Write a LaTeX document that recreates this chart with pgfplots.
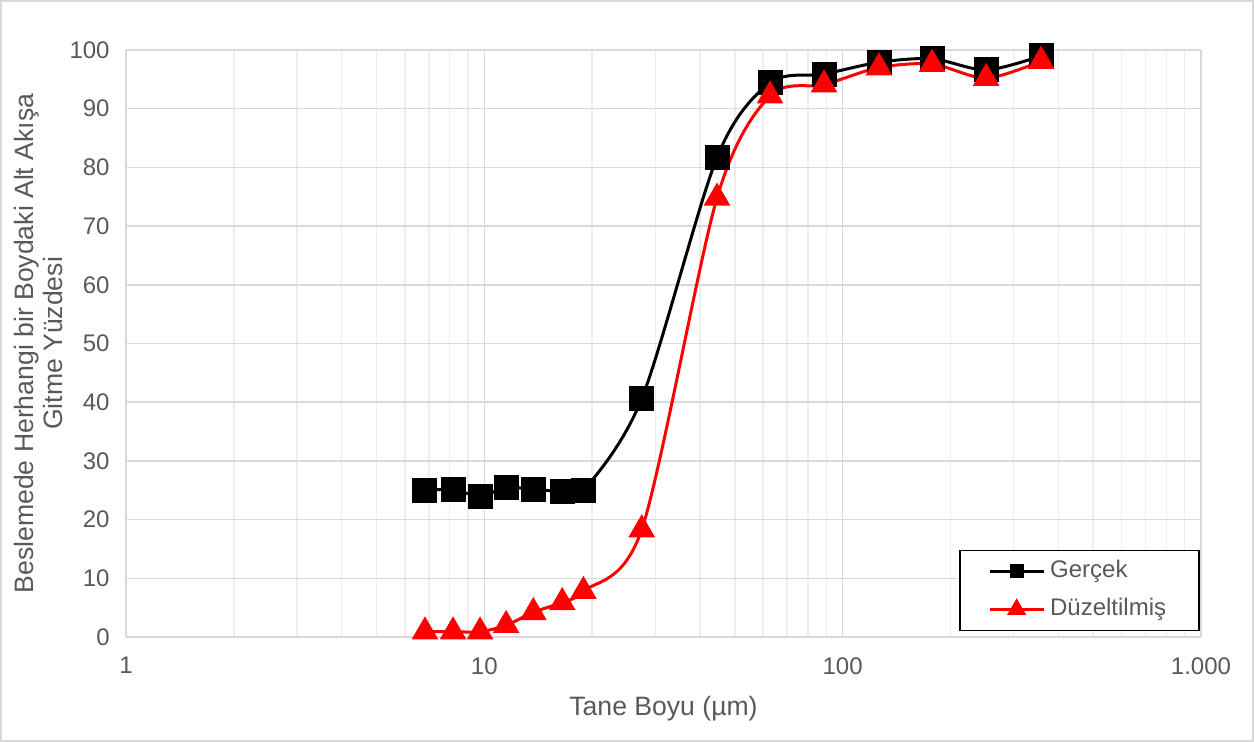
\documentclass[border=0pt]{standalone}
\usepackage{fontspec}
\setmainfont{Liberation Sans}
\usepackage{pgfplots}
\pgfplotsset{compat=1.18}
\definecolor{txtgray}{HTML}{595959}
\definecolor{gridmaj}{HTML}{D9D9D9}
\definecolor{gridmin}{HTML}{EDEDED}
\definecolor{exred}{HTML}{FF0000}
\definecolor{bordergray}{HTML}{D9D9D9}
\begin{document}
\begin{tikzpicture}[font=\fontsize{12}{14}\selectfont]
\useasboundingbox (-63pt,-52.5pt) rectangle (564pt,318.5pt);
\draw[bordergray, line width=0.75pt] (-62.6pt,-52.1pt) rectangle (563.6pt,318.1pt);
\begin{axis}[
  at={(0,0)}, anchor=south west,
  scale only axis, width=537.5pt, height=293.5pt,
  xmode=log, log basis x=10,
  xmin=1, xmax=1000, ymin=0, ymax=100,
  xtick={1,10,100,1000}, xticklabels={1,10,100,1.000},
  minor xtick={2,3,4,5,6,7,8,9,20,30,40,50,60,70,80,90,200,300,400,500,600,700,800,900},
  ytick={0,10,...,100},
  xmajorgrids, xminorgrids, ymajorgrids,
  major grid style={gridmaj, line width=0.75pt},
  minor grid style={gridmin, line width=0.75pt},
  axis x line*=bottom, axis y line*=left,
  x axis line style={gridmaj, line width=0.75pt, -},
  y axis line style={draw=none},
  major tick length=0pt, minor tick length=0pt,
  tick style={draw=none},
  /pgf/number format/assume math mode=true,
  tick label style={txtgray, font=\fontsize{12}{14}\selectfont},
  xticklabel style={inner sep=0pt, anchor=north, yshift=-10pt},
  yticklabel style={inner sep=0pt, anchor=east, xshift=-8pt},
  xlabel={Tane Boyu (µm)},
  ylabel={Beslemede Herhangi bir Boydaki Alt Akışa\\Gitme Yüzdesi},
  every axis x label/.style={at={(axis description cs:0.5,-0.1329)}, anchor=base,
    text=txtgray, font=\fontsize{13.3}{14.5}\selectfont, inner sep=0pt},
  every axis y label/.style={at={(axis description cs:-0.0814,0.5)}, anchor=center, rotate=90, align=center,
    text=txtgray, font=\fontsize{13.3}{14.5}\selectfont, inner sep=0pt},
  legend style={at={(axis description cs:0.999,0.0102)}, anchor=south east,
    draw=black, line width=0.75pt, text=txtgray, font=\fontsize{12}{14}\selectfont,
    inner xsep=14pt, inner ysep=4.5pt, row sep=7pt,
    nodes={inner xsep=2.5pt, inner ysep=0pt, text height=9pt, text depth=3pt}},
  legend cell align=left,
]
\addplot[black, line width=1.5pt, smooth, mark=square*, mark size=5.5pt, mark options={solid},
  legend image code/.code={\draw[mark repeat=2,mark phase=2, mark size=2.8pt] plot coordinates {(0pt,0pt) (13.5pt,0pt) (27pt,0pt)};}]
coordinates {
(6.83,25.0) (8.18,25.1) (9.73,24.0) (11.5,25.4) (13.7,25.2) (16.5,24.75) (18.9,24.96)
(27.5,40.6) (44.6,81.7) (62.7,94.4) (88.7,95.9) (126.3,97.9) (177.7,98.5) (251.5,96.6) (357.9,99.0)
};
\addlegendentry{Gerçek}
\addplot[exred, line width=1.5pt, smooth, mark=triangle*, mark size=6.2pt, mark options={solid},
  legend image code/.code={\draw[mark repeat=2,mark phase=2, mark size=4pt] plot coordinates {(0pt,0pt) (13.5pt,0pt) (27pt,0pt)};}]
coordinates {
(6.83,0.9) (8.18,0.9) (9.73,0.9) (11.5,2.0) (13.7,4.2) (16.5,5.9) (18.9,7.8)
(27.5,18.3) (44.6,74.8) (62.7,92.2) (88.7,94.1) (126.3,97.0) (177.7,97.6) (251.5,95.2) (357.9,98.1)
};
\addlegendentry{Düzeltilmiş}
\end{axis}
\end{tikzpicture}
\end{document}
